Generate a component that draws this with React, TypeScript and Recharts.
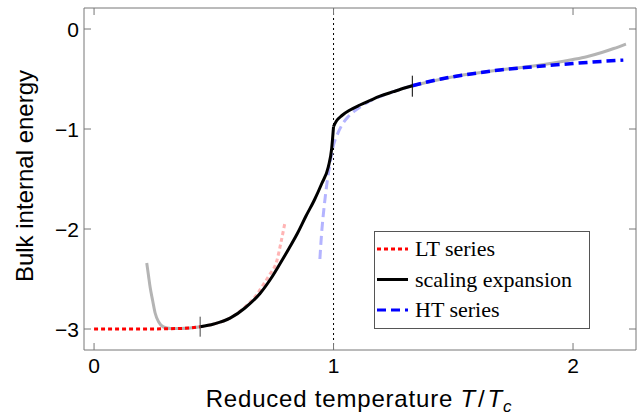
import React from "react";
import { ComposedChart, Line, XAxis, YAxis, ReferenceLine } from "recharts";

type Pt = { x: number; y: number };

const xTicks = [0, 1, 2];
const yTicks = [0, -1, -2, -3];
const xDomain: [number, number] = [-0.042, 2.263];
const yDomain: [number, number] = [-3.21, 0.21];

// scaling expansion (black), below and above T_c (kink at T_c)
const scalingBelow: Pt[] = [
  { x: 0.443, y: -2.978 }, { x: 0.5, y: -2.95 }, { x: 0.568, y: -2.892 },
  { x: 0.63, y: -2.79 }, { x: 0.693, y: -2.645 }, { x: 0.74, y: -2.49 },
  { x: 0.777, y: -2.345 }, { x: 0.815, y: -2.19 }, { x: 0.85, y: -2.04 },
  { x: 0.885, y: -1.87 }, { x: 0.92, y: -1.71 }, { x: 0.95, y: -1.55 },
  { x: 0.978, y: -1.38 }, { x: 0.992, y: -1.2 }, { x: 1.0, y: -0.975 },
];
const scalingAbove: Pt[] = [
  { x: 1.0, y: -0.975 }, { x: 1.012, y: -0.92 }, { x: 1.035, y: -0.865 },
  { x: 1.069, y: -0.81 }, { x: 1.11, y: -0.76 }, { x: 1.152, y: -0.715 },
  { x: 1.194, y: -0.672 }, { x: 1.25, y: -0.627 }, { x: 1.3, y: -0.588 },
  { x: 1.329, y: -0.567 },
];

// low temperature series (red dotted)
const ltSeries: Pt[] = [
  { x: 0, y: -3 }, { x: 0.1, y: -3 }, { x: 0.2, y: -3 }, { x: 0.3, y: -2.998 },
  { x: 0.35, y: -2.995 }, { x: 0.4, y: -2.99 }, { x: 0.443, y: -2.978 },
];

// low temperature series continued past its range (pale)
const ltFaded: Pt[] = [
  { x: 0.443, y: -2.978 }, { x: 0.5, y: -2.95 }, { x: 0.568, y: -2.89 },
  { x: 0.63, y: -2.78 }, { x: 0.68, y: -2.655 }, { x: 0.707, y: -2.555 },
  { x: 0.735, y: -2.45 }, { x: 0.763, y: -2.32 }, { x: 0.78, y: -2.14 },
  { x: 0.797, y: -1.937 },
];

// high temperature series (blue dashed)
const htSeries: Pt[] = [
  { x: 1.329, y: -0.567 }, { x: 1.4, y: -0.525 }, { x: 1.5, y: -0.477 },
  { x: 1.6, y: -0.44 }, { x: 1.695, y: -0.41 }, { x: 1.8, y: -0.385 },
  { x: 1.918, y: -0.36 }, { x: 2.0, y: -0.345 }, { x: 2.1, y: -0.327 },
  { x: 2.21, y: -0.31 },
];

// high temperature series continued below its range (pale)
const htFaded: Pt[] = [
  { x: 0.943, y: -2.3 }, { x: 0.95, y: -2.05 }, { x: 0.962, y: -1.75 },
  { x: 0.975, y: -1.5 }, { x: 0.99, y: -1.28 }, { x: 1.0, y: -1.16 },
  { x: 1.015, y: -1.06 }, { x: 1.035, y: -0.96 }, { x: 1.06, y: -0.88 },
  { x: 1.09, y: -0.815 }, { x: 1.12, y: -0.765 }, { x: 1.152, y: -0.72 },
  { x: 1.2, y: -0.67 }, { x: 1.25, y: -0.627 }, { x: 1.3, y: -0.588 },
  { x: 1.329, y: -0.567 },
];

// grey reference curves
const greyLow: Pt[] = [
  { x: 0.22, y: -2.34 }, { x: 0.227, y: -2.46 }, { x: 0.234, y: -2.58 },
  { x: 0.245, y: -2.72 }, { x: 0.255, y: -2.84 }, { x: 0.27, y: -2.93 },
  { x: 0.29, y: -2.98 }, { x: 0.32, y: -2.995 }, { x: 0.36, y: -2.995 },
  { x: 0.4, y: -2.99 }, { x: 0.443, y: -2.978 },
];
const greyHigh: Pt[] = [
  { x: 1.329, y: -0.567 }, { x: 1.5, y: -0.477 }, { x: 1.7, y: -0.408 },
  { x: 1.85, y: -0.365 }, { x: 1.918, y: -0.34 }, { x: 2.0, y: -0.305 },
  { x: 2.057, y: -0.277 }, { x: 2.12, y: -0.235 }, { x: 2.17, y: -0.195 },
  { x: 2.221, y: -0.15 },
];

// matching-point markers
const markLow: Pt[] = [{ x: 0.443, y: -2.877 }, { x: 0.443, y: -3.077 }];
const markHigh: Pt[] = [{ x: 1.329, y: -0.467 }, { x: 1.329, y: -0.677 }];

const legendItems = [
  { label: "LT series", color: "#ff0000", dash: "4 3" },
  { label: "scaling expansion", color: "#000000", dash: "" },
  { label: "HT series", color: "#0000ff", dash: "9 5" },
];

const frame = "#777777";
const sans = "'Liberation Sans', Arial, sans-serif";
const serif = "'Liberation Serif', 'Times New Roman', serif";

const fmt = (v: number) => (v < 0 ? `\u2212${Math.abs(v)}` : `${v}`);

function BottomTick(props: any) {
  const { x, y, payload } = props;
  return (
    <g>
      <line x1={x} x2={x} y1={y} y2={y - 7} stroke={frame} />
      <text x={x} y={y + 23} textAnchor="middle" fontSize={21} fontFamily={sans} fill="#000">
        {fmt(payload.value)}
      </text>
    </g>
  );
}

function TopTick(props: any) {
  const { x, y } = props;
  return <line x1={x} x2={x} y1={y} y2={y + 7} stroke={frame} />;
}

function LeftTick(props: any) {
  const { x, y, payload } = props;
  return (
    <g>
      <line x1={x} x2={x + 7} y1={y} y2={y} stroke={frame} />
      <text x={x - 5} y={y + 7.5} textAnchor="end" fontSize={21} fontFamily={sans} fill="#000">
        {fmt(payload.value)}
      </text>
    </g>
  );
}

function RightTick(props: any) {
  const { x, y } = props;
  return <line x1={x} x2={x - 7} y1={y} y2={y} stroke={frame} />;
}

export default function App() {
  const common = { dot: false, activeDot: false, isAnimationActive: false, dataKey: "y" } as const;
  return (
    <div style={{ position: "absolute", left: 0, top: 0, width: 641, height: 416, background: "#fff" }}>
      <ComposedChart width={641} height={416} margin={{ top: 7, right: 4, bottom: 65, left: 83 }}>
        <XAxis
          dataKey="x"
          type="number"
          domain={xDomain}
          ticks={xTicks}
          allowDataOverflow
          height={1}
          tickSize={0}
          tickMargin={0}
          tick={<BottomTick />}
          axisLine={{ stroke: frame }}
          tickLine={false}
        />
        <XAxis
          xAxisId="top"
          orientation="top"
          dataKey="x"
          type="number"
          domain={xDomain}
          ticks={xTicks}
          allowDataOverflow
          height={1}
          tickSize={0}
          tickMargin={0}
          tick={<TopTick />}
          axisLine={{ stroke: frame }}
          tickLine={false}
        />
        <YAxis
          type="number"
          domain={yDomain}
          ticks={yTicks}
          allowDataOverflow
          width={1}
          tickSize={0}
          tickMargin={0}
          tick={<LeftTick />}
          axisLine={{ stroke: frame }}
          tickLine={false}
        />
        <YAxis
          yAxisId="right"
          orientation="right"
          type="number"
          domain={yDomain}
          ticks={yTicks}
          allowDataOverflow
          width={1}
          tickSize={0}
          tickMargin={0}
          tick={<RightTick />}
          axisLine={{ stroke: frame }}
          tickLine={false}
        />
        <ReferenceLine x={1} stroke="#000" strokeWidth={1} strokeDasharray="2 3" />
        <Line {...common} data={greyLow} type="monotone" stroke="#b4b4b4" strokeWidth={3} />
        <Line {...common} data={greyHigh} type="monotone" stroke="#b4b4b4" strokeWidth={3} />
        <Line {...common} data={ltFaded} type="monotone" stroke="#ffb4b4" strokeWidth={3} strokeDasharray="4 3" />
        <Line {...common} data={htFaded} type="monotone" stroke="#b4b4ff" strokeWidth={3} strokeDasharray="9 5" />
        <Line {...common} data={scalingBelow} type="monotone" stroke="#000" strokeWidth={3} />
        <Line {...common} data={scalingAbove} type="monotone" stroke="#000" strokeWidth={3} />
        <Line {...common} data={ltSeries} type="monotone" stroke="#ff0000" strokeWidth={3} strokeDasharray="4 3" />
        <Line {...common} data={htSeries} type="monotone" stroke="#0000ff" strokeWidth={3.5} strokeDasharray="9 5" />
        <Line {...common} data={markLow} type="linear" stroke="#444" strokeWidth={1} />
        <Line {...common} data={markHigh} type="linear" stroke="#000" strokeWidth={1} />
      </ComposedChart>
      <svg width={641} height={416} style={{ position: "absolute", left: 0, top: 0, pointerEvents: "none" }}>
        <text x={359} y={407} textAnchor="middle" fontSize={24} letterSpacing={0.8} fontFamily={sans} fill="#000">
          Reduced temperature{" "}
          <tspan fontStyle="italic">T</tspan>
          <tspan dx={2}>/</tspan>
          <tspan fontStyle="italic" dx={2}>T</tspan>
          <tspan fontStyle="italic" fontSize={17} dy={5}>c</tspan>
        </text>
        <text
          transform="translate(33,176) rotate(-90)"
          textAnchor="middle"
          fontSize={24}
          fontFamily={sans}
          fill="#000"
        >
          Bulk internal energy
        </text>
        <rect x={374.5} y={231.5} width={215} height={97} fill="#fff" stroke="#555" strokeWidth={1} />
        {legendItems.map((item, i) => {
          const cy = 249 + i * 30.5;
          return (
            <g key={item.label}>
              <line
                x1={377}
                x2={408}
                y1={cy}
                y2={cy}
                stroke={item.color}
                strokeWidth={3}
                strokeDasharray={item.dash || undefined}
              />
              <text x={415} y={cy + 7} fontSize={22} fontFamily={serif} fill="#000">
                {item.label}
              </text>
            </g>
          );
        })}
      </svg>
    </div>
  );
}
